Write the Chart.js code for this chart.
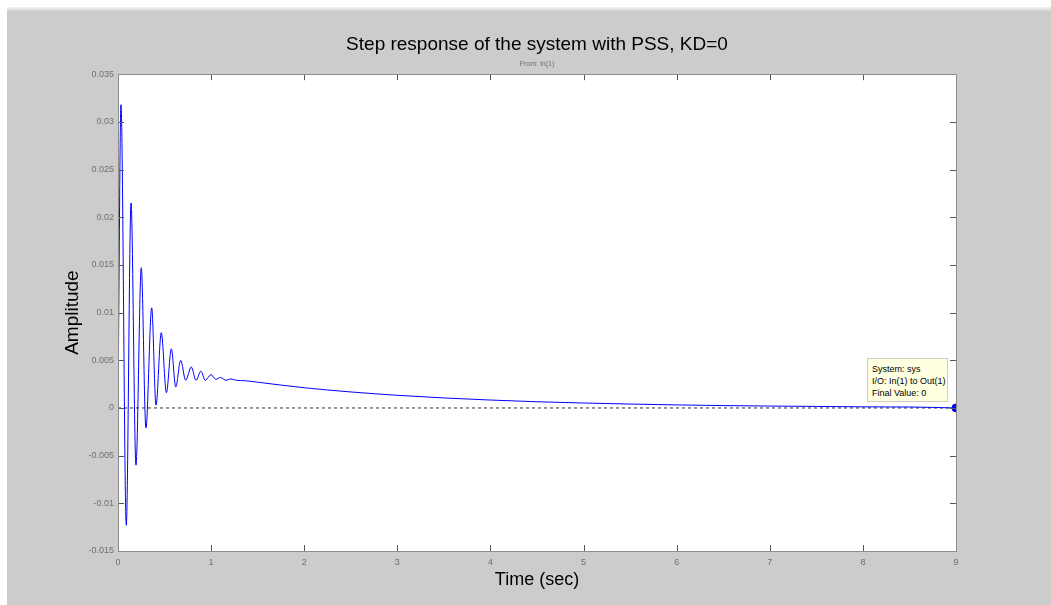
<!DOCTYPE html>
<html>
<head>
<meta charset="utf-8">
<script src="https://cdn.jsdelivr.net/npm/chart.js@4.4.1/dist/chart.umd.min.js"></script>
<style>
  html, body { margin: 0; padding: 0; background: #ffffff; }
  #wrap { position: relative; width: 1051px; height: 605px; overflow: hidden; }
  #fig { position: absolute; left: 7px; top: 7px; right: 0; bottom: 0; background: #cccccc;
         border-top: 2px solid #eeeeee; box-shadow: inset 0 2px 0 #dadada; }
  #c { position: absolute; left: 0; top: 0; }
  #tip { position: absolute; left: 867px; top: 358px; width: 81px; height: 44px;
         background: #ffffe1; border: 1px solid #cfcfbf; font-family: Arial, "Liberation Sans", sans-serif;
         font-size: 9px; line-height: 12px; color: #000; padding: 4px 0 0 4px; box-sizing: border-box; white-space: nowrap; }
</style>
</head>
<body>
<div id="wrap">
  <div id="fig"></div>
  <canvas id="c" width="1051" height="605"></canvas>
  <div id="tip"><div>System: sys</div><div>I/O: In(1) to Out(1)</div><div>Final Value: 0</div></div>
</div>
<script>
// ---- data ----
const timeSec = [0, 0.032, 0.089, 0.14, 0.193, 0.25, 0.30, 0.362, 0.408, 0.465, 0.52, 0.573, 0.62, 0.673, 0.727,
  0.787, 0.838, 0.89, 0.937, 0.999, 1.05, 1.10, 1.16, 1.21, 1.27, 1.36, 1.5, 2, 2.5, 3, 3.5, 4, 4.5,
  5, 5.5, 6, 6.5, 7, 7.5, 8, 8.5, 9];
const amplitude = [0, 0.0318, -0.0123, 0.0215, -0.006, 0.0147, -0.0021, 0.0105, 0.0003, 0.0079, 0.0016, 0.0062,
  0.0022, 0.0050, 0.0029, 0.0043, 0.0029, 0.00385, 0.0029, 0.0035, 0.0030, 0.0032, 0.0029, 0.00305, 0.0029,
  0.00286, 0.0027, 0.00212, 0.00168, 0.00133, 0.00105, 0.00083, 0.00065, 0.00052, 0.00041, 0.00032,
  0.00025, 0.0002, 0.00016, 0.00012, 0.0001, 0];
const zeroLineT = [0, 9];
const zeroLineY = [0, 0];
const finalT = [9];
const finalY = [0];
const xTicks = [0, 1, 2, 3, 4, 5, 6, 7, 8, 9];
const yTicks = [-0.015, -0.01, -0.005, 0, 0.005, 0.01, 0.015, 0.02, 0.025, 0.03, 0.035];
const yTickLabels = ["-0.015", "-0.01", "-0.005", "0", "0.005", "0.01", "0.015", "0.02", "0.025", "0.03", "0.035"];
const titleText = "Step response of the system with PSS, KD=0";
const subtitleText = "From: In(1)";
const xTitle = "Time (sec)";
const yTitle = "Amplitude";

const pts = (xs, ys) => xs.map((x, i) => ({ x: x, y: ys[i] }));
const FONT = 'Arial, "Liberation Sans", sans-serif';

const boxPlugin = {
  id: 'boxPlugin',
  beforeDraw(chart) {
    const a = chart.chartArea, ctx = chart.ctx;
    ctx.save();
    ctx.fillStyle = '#ffffff';
    ctx.fillRect(a.left, a.top, a.right - a.left, a.bottom - a.top);
    ctx.restore();
  },
  afterDraw(chart) {
    const a = chart.chartArea, ctx = chart.ctx;
    const xs = chart.scales.x, ys = chart.scales.y;
    const L = 6;
    ctx.save();
    ctx.strokeStyle = '#555555';
    ctx.lineWidth = 1;
    ctx.beginPath();
    xs.ticks.forEach(t => {
      const px = Math.round(xs.getPixelForValue(t.value)) + 0.5;
      ctx.moveTo(px, a.bottom); ctx.lineTo(px, a.bottom - L);
      ctx.moveTo(px, a.top); ctx.lineTo(px, a.top + L);
    });
    ys.ticks.forEach(t => {
      const py = Math.round(ys.getPixelForValue(t.value)) + 0.5;
      ctx.moveTo(a.left, py); ctx.lineTo(a.left + L, py);
      ctx.moveTo(a.right, py); ctx.lineTo(a.right - L, py);
    });
    ctx.stroke();
    ctx.strokeStyle = '#8c8c8c';
    ctx.strokeRect(Math.round(a.left) + 0.5, Math.round(a.top) + 0.5,
                   Math.round(a.right - a.left), Math.round(a.bottom - a.top));
    ctx.restore();
  }
};

new Chart(document.getElementById('c'), {
  type: 'line',
  data: {
    datasets: [
      { data: pts(finalT, finalY), showLine: false, pointRadius: 4, pointBackgroundColor: '#0000ff',
        pointBorderColor: '#0000ff', order: 1 },
      { data: pts(timeSec, amplitude), borderColor: '#0000ff', borderWidth: 1, pointRadius: 0,
        cubicInterpolationMode: 'monotone', fill: false, order: 2 },
      { data: pts(zeroLineT, zeroLineY), borderColor: '#333333', borderWidth: 1, borderDash: [3, 3],
        pointRadius: 0, fill: false, order: 3 }
    ]
  },
  options: {
    responsive: false,
    animation: false,
    events: [],
    layout: { padding: { left: 0, right: 95, top: 0, bottom: 0 } },
    plugins: {
      legend: { display: false },
      tooltip: { enabled: false },
      title: { display: true, text: titleText, fullSize: false, color: '#000000',
               font: { family: FONT, size: 19, weight: 'normal' }, padding: { top: 33, bottom: 2 } },
      subtitle: { display: true, text: subtitleText, fullSize: false, color: '#707070',
                  font: { family: FONT, size: 7, weight: 'normal' }, padding: { top: 2, bottom: 6 } }
    },
    scales: {
      x: {
        type: 'linear', min: 0, max: 9,
        afterBuildTicks: ax => { ax.ticks = xTicks.map(v => ({ value: v })); },
        afterFit: ax => { ax.height = 54; },
        grid: { display: false, drawTicks: false },
        border: { display: false },
        ticks: { color: '#707070', font: { family: FONT, size: 9 }, padding: 6, maxRotation: 0,
                 callback: v => String(v) },
        title: { display: true, text: xTitle, color: '#000000', font: { family: FONT, size: 18 },
                 padding: { top: 0, bottom: 14 } }
      },
      y: {
        type: 'linear', min: -0.015, max: 0.035,
        afterBuildTicks: ax => { ax.ticks = yTicks.map(v => ({ value: v })); },
        afterFit: ax => { ax.width = 118; },
        grid: { display: false, drawTicks: false },
        border: { display: false },
        ticks: { color: '#707070', font: { family: FONT, size: 9 }, padding: 4,
                 callback: (v, i) => yTickLabels[i] },
        title: { display: true, text: yTitle, color: '#000000', font: { family: FONT, size: 19 },
                 padding: { top: 61, bottom: 0 } }
      }
    }
  },
  plugins: [boxPlugin]
});
</script>
</body>
</html>
